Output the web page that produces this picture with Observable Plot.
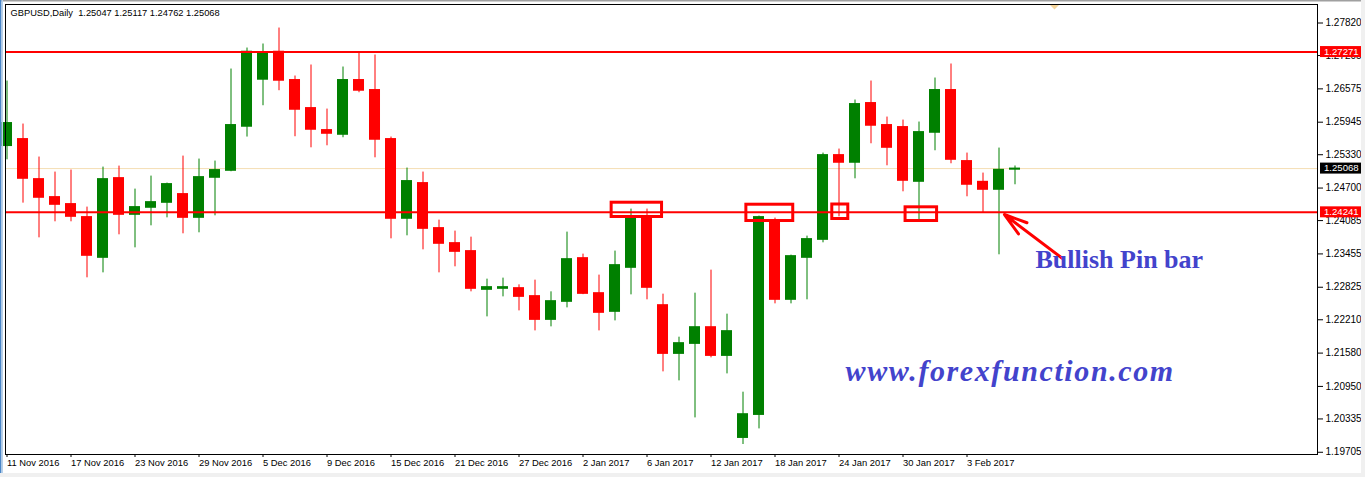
<!DOCTYPE html>
<html><head><meta charset="utf-8">
<script src="https://cdn.jsdelivr.net/npm/d3@7"></script>
<script src="https://cdn.jsdelivr.net/npm/@observablehq/plot@0.6"></script>
<style>
html,body{margin:0;padding:0;background:#fff;overflow:hidden}
#chart svg{display:block}
</style></head><body><div id="chart"></div>
<script>
const symbol = "GBPUSD";
const period = "Daily";
const dates = ["2016-11-11","2016-11-14","2016-11-15","2016-11-16","2016-11-17","2016-11-18","2016-11-21","2016-11-22","2016-11-23","2016-11-24","2016-11-25","2016-11-28","2016-11-29","2016-11-30","2016-12-01","2016-12-02","2016-12-05","2016-12-06","2016-12-07","2016-12-08","2016-12-09","2016-12-12","2016-12-13","2016-12-14","2016-12-15","2016-12-16","2016-12-19","2016-12-20","2016-12-21","2016-12-22","2016-12-23","2016-12-26","2016-12-27","2016-12-28","2016-12-29","2016-12-30","2017-01-02","2017-01-03","2017-01-04","2017-01-05","2017-01-06","2017-01-09","2017-01-10","2017-01-11","2017-01-12","2017-01-13","2017-01-16","2017-01-17","2017-01-18","2017-01-19","2017-01-20","2017-01-23","2017-01-24","2017-01-25","2017-01-26","2017-01-27","2017-01-30","2017-01-31","2017-02-01","2017-02-02","2017-02-03","2017-02-06","2017-02-07","2017-02-08"];
const open  = [1.25494,1.25626,1.24869,1.24529,1.24397,1.24151,1.23381,1.24888,1.24194,1.24327,1.24421,1.24586,1.24137,1.24894,1.25026,1.25859,1.26748,1.27277,1.26742,1.26212,1.25796,1.25707,1.26742,1.26553,1.25626,1.24119,1.24794,1.23943,1.23659,1.23508,1.22776,1.22795,1.22808,1.22657,1.22208,1.22549,1.23375,1.22713,1.22360,1.23192,1.24137,1.22486,1.21565,1.21754,1.22070,1.21527,1.19976,1.20411,1.24075,1.22587,1.23381,1.23721,1.25323,1.25178,1.26307,1.25891,1.25853,1.24818,1.25745,1.26553,1.25210,1.24818,1.24667,1.25047];
const high  = [1.26723,1.25910,1.25286,1.25002,1.25040,1.24340,1.25096,1.25115,1.24680,1.24926,1.24794,1.25304,1.25248,1.25210,1.26950,1.27347,1.27423,1.27725,1.26818,1.27026,1.26193,1.26988,1.27258,1.27215,1.25664,1.25078,1.25002,1.24094,1.23886,1.23772,1.22978,1.22997,1.22870,1.22959,1.22738,1.23867,1.23451,1.23054,1.23508,1.24302,1.24302,1.22694,1.21881,1.22713,1.23148,1.22316,1.20841,1.24170,1.24132,1.23432,1.23791,1.25361,1.25437,1.26364,1.26723,1.26042,1.25985,1.25948,1.26780,1.27045,1.25361,1.24983,1.25456,1.25117];
const low   = [1.25234,1.24415,1.23759,1.24062,1.24062,1.23003,1.23097,1.23816,1.23570,1.23986,1.24137,1.23835,1.23854,1.24175,1.25008,1.25664,1.26256,1.26540,1.25670,1.25461,1.25499,1.25651,1.26502,1.25272,1.23740,1.23797,1.23532,1.23097,1.23211,1.22738,1.22265,1.22643,1.22378,1.22000,1.22076,1.22435,1.22685,1.22000,1.22189,1.22681,1.22587,1.21225,1.21055,1.20355,1.21490,1.21187,1.19852,1.20147,1.22511,1.22511,1.22587,1.23665,1.24156,1.24875,1.25537,1.25121,1.24629,1.24100,1.25405,1.25159,1.24535,1.24232,1.23438,1.24762];
const close = [1.25929,1.24875,1.24516,1.24383,1.24156,1.23419,1.24869,1.24194,1.24340,1.24434,1.24775,1.24137,1.24907,1.25040,1.25891,1.27277,1.27258,1.26729,1.26180,1.25802,1.25726,1.26742,1.26540,1.25613,1.24119,1.24832,1.23929,1.23646,1.23494,1.22795,1.22827,1.22827,1.22643,1.22208,1.22562,1.23356,1.22700,1.22341,1.23243,1.24137,1.22814,1.21565,1.21768,1.22070,1.21527,1.21995,1.20425,1.24151,1.22587,1.23413,1.23735,1.25323,1.25178,1.26288,1.25878,1.25461,1.24837,1.25758,1.26553,1.25234,1.24762,1.24667,1.25045,1.25068];
const yTicks = [1.27820,1.27205,1.26575,1.25945,1.25330,1.24700,1.24085,1.23455,1.22825,1.22210,1.21580,1.20950,1.20335,1.19705];
const xTickLabels = ["11 Nov 2016","17 Nov 2016","23 Nov 2016","29 Nov 2016","5 Dec 2016","9 Dec 2016","15 Dec 2016","21 Dec 2016","27 Dec 2016","2 Jan 2017","6 Jan 2017","12 Jan 2017","18 Jan 2017","24 Jan 2017","30 Jan 2017","3 Feb 2017"];
const levels = [1.27271, 1.24241];
const bid = 1.25068;
// annotation boxes, in bar-index / price coordinates
const boxX1 = [37.79, 46.21, 51.58, 56.16];
const boxX2 = [40.94, 49.14, 52.58, 58.13];
const boxY1 = [1.24423, 1.24385, 1.24389, 1.24336];
const boxY2 = [1.24153, 1.24077, 1.24115, 1.24077];
const arrowFrom = [65.97, 1.23368];
const arrowTo = [62.34, 1.24200];
const noteTexts = ["Bullish Pin bar", "www.forexfunction.com"];
const noteX = [64.28, 52.41];
const noteY = [1.23340, 1.21225];

const candles = dates.map((d, i) => ({i, date: d, open: open[i], high: high[i], low: low[i], close: close[i]}));
const boxes = boxX1.map((x1, k) => ({x1, x2: boxX2[k], y1: boxY1[k], y2: boxY2[k]}));
const arrows = [{x1: arrowFrom[0], y1: arrowFrom[1], x2: arrowTo[0], y2: arrowTo[1]}];
const up = "#008000", down = "#FF0000";
const col = d => d.close >= d.open ? up : down;
const fmt = d3.format(".5f");
const parseLabel = d3.timeParse("%d %b %Y");
const fmtISO = d3.timeFormat("%Y-%m-%d");
const xTicks = xTickLabels.map(s => dates.indexOf(fmtISO(parseLabel(s))));
const last = candles[candles.length - 1];
const title = `${symbol},${period}  ${fmt(last.open)} ${fmt(last.high)} ${fmt(last.low)} ${fmt(last.close)}`;

const chart = Plot.plot({
  width: 1365, height: 477,
  marginLeft: 5, marginRight: 48, marginTop: 4, marginBottom: 23,
  style: {fontFamily: "'Liberation Sans', Arial, sans-serif", fontSize: "10px", color: "#000", background: "#fff", overflow: "visible"},
  x: {domain: [-0.094, 81.906]},
  y: {domain: [1.19663, 1.28170]},
  color: {type: "identity"},
  marks: [
    Plot.ruleY([bid], {stroke: "#F5DEB3", strokeWidth: 1}),
    Plot.ruleX(candles, {x: "i", y1: "low", y2: "high", stroke: col, strokeWidth: 1}),
    Plot.rect(candles, {x1: d => d.i - 0.344, x2: d => d.i + 0.344, y1: "open", y2: "close", fill: col, insetTop: -0.5, insetBottom: -0.5}),
    Plot.ruleY(levels, {stroke: "#FF0000", strokeWidth: 2}),
    Plot.rect(boxes, {x1: "x1", x2: "x2", y1: "y1", y2: "y2", fill: "none", stroke: "#FF0000", strokeWidth: 3}),
    Plot.arrow(arrows, {x1: "x1", y1: "y1", x2: "x2", y2: "y2", stroke: "#FF0000", strokeWidth: 3, headLength: 12, headAngle: 34}),
    Plot.text([0], {x: noteX[0], y: noteY[0], text: () => noteTexts[0], textAnchor: "start", lineAnchor: "middle", fill: "#4343CC", fontSize: 26, fontWeight: "bold", fontFamily: "'Liberation Serif', 'Times New Roman', serif"}),
    Plot.text([1], {x: noteX[1], y: noteY[1], text: () => noteTexts[1], textAnchor: "start", lineAnchor: "middle", fill: "#4343CC", fontSize: 30, fontWeight: "bold", fontStyle: "italic", fontFamily: "'Liberation Serif', 'Times New Roman', serif"}),
    Plot.frame({stroke: "#000"}),
    Plot.axisY({anchor: "right", ticks: yTicks, tickFormat: fmt, tickSize: 5, tickPadding: 3}),
    Plot.axisX({ticks: xTicks, tickFormat: i => xTickLabels[xTicks.indexOf(i)], tickSize: 3, tickPadding: 2, textAnchor: "start", fontSize: 9.4}),
    Plot.text([title], {frameAnchor: "top-left", dx: 5, dy: 9, textAnchor: "start", lineAnchor: "middle", fontSize: 9.3})
  ]
});
document.getElementById("chart").appendChild(chart);

// letter spacing for the url note
d3.select(chart).selectAll("text").filter(function(){ return this.textContent === noteTexts[1]; }).attr("letter-spacing", "1.6px");

// price labels on the right scale
const ys = chart.scale("y");
const svg = d3.select(chart);
const tags = [{v: levels[0], bg: "#FF0000"}, {v: levels[1], bg: "#FF0000"}, {v: bid, bg: "#000000"}];
for (const t of tags) {
  const py = ys.apply(t.v);
  const g = svg.append("g").attr("text-anchor", "start");
  g.append("rect").attr("x", 1320).attr("y", py - 5.5).attr("width", 41).attr("height", 11).attr("fill", t.bg);
  g.append("text").attr("x", 1324).attr("y", py).attr("dy", "0.35em").attr("fill", "#fff").attr("text-anchor", "start")
    .attr("font-size", 9.6).attr("font-family", "'Liberation Sans', Arial, sans-serif").text(fmt(t.v));
}
// window chrome
svg.append("rect").attr("x", 0).attr("y", 0).attr("width", 1365).attr("height", 1.5).attr("fill", "#A0A0A0");
svg.append("rect").attr("x", 0).attr("y", 0).attr("width", 1.5).attr("height", 477).attr("fill", "#4A86C8");
svg.append("rect").attr("x", 1.5).attr("y", 0).attr("width", 1.5).attr("height", 477).attr("fill", "#B9D1EA");
svg.append("rect").attr("x", 1361).attr("y", 0).attr("width", 4).attr("height", 477).attr("fill", "#F0F0F0");
svg.append("rect").attr("x", 0).attr("y", 473).attr("width", 1365).attr("height", 4).attr("fill", "#F0F0F0");
// chart shift marker
svg.append("path").attr("d", "M1050,5 L1059,5 L1054.5,9.5 Z").attr("fill", "#F5D59C");
</script></body></html>
